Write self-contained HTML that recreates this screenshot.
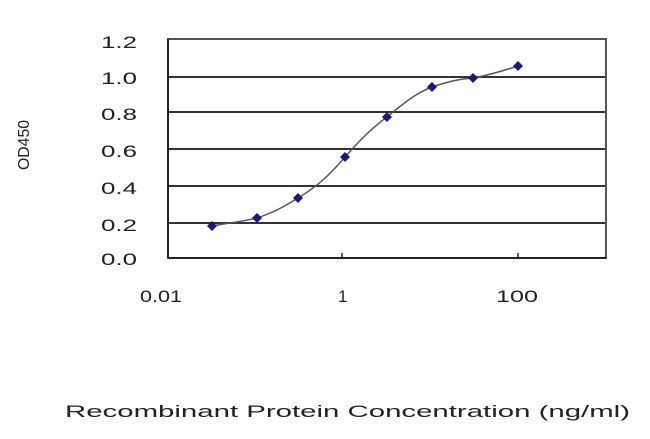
<!DOCTYPE html>
<html><head><meta charset="utf-8"><style>body{margin:0;background:#fff}</style></head><body>
<svg width="650" height="434" xmlns="http://www.w3.org/2000/svg" font-family="Liberation Sans, sans-serif" fill="#222">
<rect width="650" height="434" fill="#fff"/>
<g stroke="#333" stroke-width="2">
<line x1="168" y1="77" x2="606" y2="77"/>
<line x1="168" y1="112" x2="606" y2="112"/>
<line x1="168" y1="149" x2="606" y2="149"/>
<line x1="168" y1="186" x2="606" y2="186"/>
<line x1="168" y1="223" x2="606" y2="223"/>
</g>
<rect x="168" y="39" width="438" height="219" fill="none" stroke="#555" stroke-width="2"/>
<line x1="168" y1="258" x2="606" y2="258" stroke="#222" stroke-width="2"/>
<line x1="168" y1="39" x2="168" y2="258" stroke="#222" stroke-width="2"/>
<line x1="342" y1="258" x2="342" y2="253" stroke="#222" stroke-width="1.5"/>
<line x1="518" y1="258" x2="518" y2="253" stroke="#222" stroke-width="1.5"/>
<g font-size="17">
<text x="101" y="48" textLength="36" lengthAdjust="spacingAndGlyphs">1.2</text>
<text x="101" y="84" textLength="36" lengthAdjust="spacingAndGlyphs">1.0</text>
<text x="101" y="120" textLength="36" lengthAdjust="spacingAndGlyphs">0.8</text>
<text x="101" y="157" textLength="36" lengthAdjust="spacingAndGlyphs">0.6</text>
<text x="101" y="194" textLength="36" lengthAdjust="spacingAndGlyphs">0.4</text>
<text x="101" y="231" textLength="36" lengthAdjust="spacingAndGlyphs">0.2</text>
<text x="101" y="265" textLength="36" lengthAdjust="spacingAndGlyphs">0.0</text>
</g>
<g font-size="17">
<text x="140" y="302" textLength="42" lengthAdjust="spacingAndGlyphs">0.01</text>
<text x="338" y="302">1</text>
<text x="496" y="302" textLength="42" lengthAdjust="spacingAndGlyphs">100</text>
</g>
<text x="65" y="417" font-size="17" textLength="565" lengthAdjust="spacingAndGlyphs">Recombinant Protein Concentration (ng/ml)</text>
<text transform="translate(29,145) rotate(-90)" font-size="16" text-anchor="middle" textLength="50" lengthAdjust="spacingAndGlyphs">OD450</text>
<path d="M212,226 C235,222 245,221 257,218 C275,212 285,206 298,198 C320,185 332,172 345,157 C360,140 372,128 387,117 C405,102 418,92 432,87 C450,81 460,79 473,78 C490,75 505,70 518,66" fill="none" stroke="#556" stroke-width="1.5"/>
<g fill="#1a1a7a">
<path d="M212,221 l5,5 -5,5 -5,-5z"/><path d="M257,213 l5,5 -5,5 -5,-5z"/>
<path d="M298,193 l5,5 -5,5 -5,-5z"/><path d="M345,152 l5,5 -5,5 -5,-5z"/>
<path d="M387,112 l5,5 -5,5 -5,-5z"/><path d="M432,82 l5,5 -5,5 -5,-5z"/>
<path d="M473,73 l5,5 -5,5 -5,-5z"/><path d="M518,61 l5,5 -5,5 -5,-5z"/>
</g>
</svg>
</body></html>
